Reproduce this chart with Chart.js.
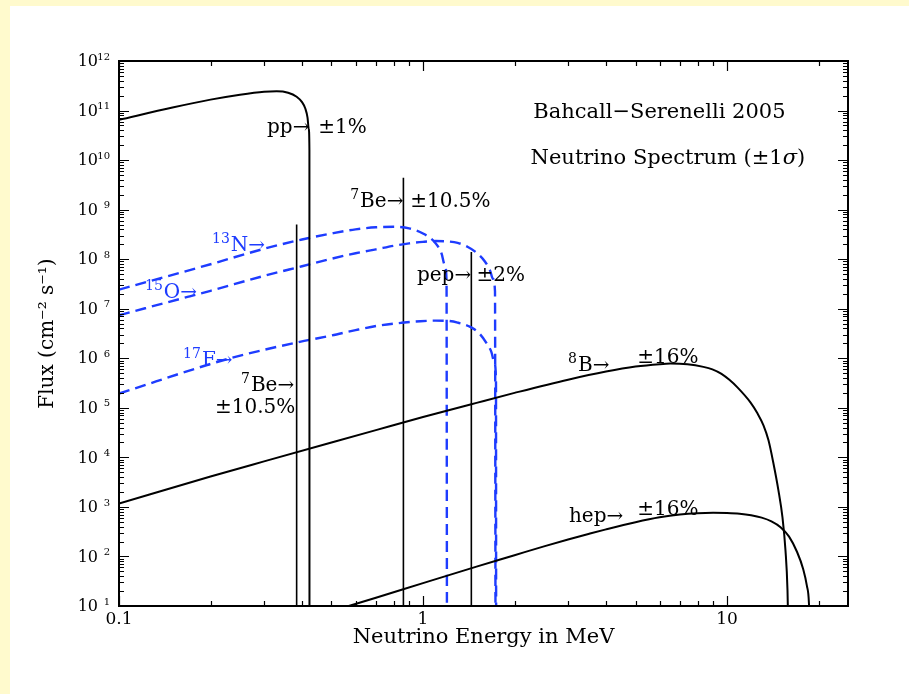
<!DOCTYPE html>
<html>
<head>
<meta charset="utf-8">
<title>Solar neutrino spectrum</title>
<script src="https://cdn.jsdelivr.net/npm/chart.js@4.4.1/dist/chart.umd.min.js"></script>
<style>
  html, body { margin: 0; padding: 0; background: #fffacd; }
  #wrap { width: 909px; height: 694px; }
  canvas { display: block; }
</style>
</head>
<body>
<div id="wrap"><canvas id="spectrum" width="909" height="694"></canvas></div>
<script>
// Energies in MeV; continuum fluxes in cm^-2 s^-1 MeV^-1, line fluxes in cm^-2 s^-1.
// A closing flux of 1 sits below the axis floor so each spectrum drops to its endpoint.

const ppEnergy = [0.1, 0.15, 0.2, 0.25, 0.3, 0.33, 0.36, 0.384, 0.4, 0.41, 0.417, 0.421, 0.423, 0.4232];
const ppFlux   = [6.5e10, 1.15e11, 1.66e11, 2.09e11, 2.4e11, 2.45e11, 2.29e11, 1.9e11, 1.48e11, 1.1e11, 7.2e10, 4.2e10, 1.6e10, 1];

const n13Energy = [0.1, 0.2, 0.3, 0.4, 0.5, 0.6, 0.7, 0.8, 0.9, 1.0, 1.1, 1.15, 1.18, 1.195, 1.199];
const n13Flux   = [2.43e7, 7.9e7, 1.62e8, 2.5e8, 3.3e8, 4.0e8, 4.4e8, 4.5e8, 4.2e8, 3.3e8, 2.1e8, 1.32e8, 7.6e7, 3.7e7, 1];

const o15Energy = [0.1, 0.171, 0.2, 0.3, 0.4, 0.5, 0.6, 0.7, 0.8, 0.9, 1.0, 1.1, 1.2, 1.3, 1.4, 1.5, 1.6, 1.66, 1.7, 1.725, 1.732];
const o15Flux   = [7.4e6, 1.78e7, 2.3e7, 4.6e7, 7.2e7, 1.02e8, 1.32e8, 1.58e8, 1.86e8, 2.09e8, 2.24e8, 2.32e8, 2.29e8, 2.14e8, 1.78e8, 1.35e8, 8.9e7, 6.0e7, 4.0e7, 2.24e7, 1];

const f17Energy = [0.1, 0.232, 0.393, 0.5, 0.6, 0.72, 0.85, 0.98, 1.1, 1.2, 1.3, 1.43, 1.53, 1.62, 1.68, 1.72, 1.738, 1.74];
const f17Flux   = [1.94e5, 1.0e6, 2.14e6, 2.88e6, 3.7e6, 4.6e6, 5.2e6, 5.6e6, 5.75e6, 5.7e6, 5.25e6, 4.3e6, 3.2e6, 2.0e6, 1.32e6, 7.8e5, 3.2e5, 1];

const b8Energy = [0.1, 0.2, 0.3, 0.5, 0.7, 1.0, 1.5, 2, 3, 4, 5, 6, 6.51, 7.41, 8.36, 8.95, 9.59, 10.18, 10.82, 11.94,
                  12.59, 13.18, 13.69, 14.21, 14.76, 15.22, 15.57, 15.81, 15.97];
const b8Flux   = [1.17e3, 4.1e3, 8.3e3, 2.0e4, 3.55e4, 6.5e4, 1.26e5, 2.0e5, 3.7e5, 5.4e5, 6.8e5, 7.6e5, 7.8e5, 7.55e5, 6.71e5, 5.98e5, 4.85e5, 3.67e5, 2.59e5, 1.29e5,
                  7.75e4, 4.44e4, 2.21e4, 7.6e3, 2.16e3, 617, 133, 20.7, 1];

const hepEnergy = [0.5, 0.7, 1, 1.5, 2, 2.5, 3, 3.5, 4, 5, 6, 7, 8, 9, 10, 11, 12, 13, 14, 15, 16, 17, 17.8, 18.3, 18.6, 18.8];
const hepFlux   = [7.8, 14.7, 29.0, 62.4, 106, 160, 220, 284, 352, 491, 617, 703, 746, 760, 752, 728, 679, 607, 511, 389, 251, 123, 56, 26, 11.2, 1];

// Monoenergetic lines
const be7LineEnergy = [0.384, 0.862];
const be7LineFlux   = [5.0e8, 4.4e9];
const pepLineEnergy = [1.442];
const pepLineFlux   = [1.4e8];

// Axis ticks
const xTickValues = [0.1, 1, 10];
const xTickLabels = ['0.1', '1', '10'];
const yTickValues = [1e1, 1e2, 1e3, 1e4, 1e5, 1e6, 1e7, 1e8, 1e9, 1e10, 1e11, 1e12];
const yTickExponents = ['1', '2', '3', '4', '5', '6', '7', '8', '9', '10', '11', '12'];

const FONT = '"DejaVu Serif", serif';
const BLUE = '#1e3cff';

function points(xs, ys) { return xs.map((x, i) => ({ x: x, y: ys[i] })); }

function spectrum(label, xs, ys, color, dashed) {
  return {
    label: label,
    data: points(xs, ys),
    borderColor: color,
    borderWidth: dashed ? 2.4 : 2,
    borderDash: dashed ? [11, 6] : [],
    pointRadius: 0,
    fill: false,
    cubicInterpolationMode: 'monotone'
  };
}

function lineSource(label, e, f) {
  return {
    label: label,
    data: [{ x: e, y: f }, { x: e, y: 1 }],
    borderColor: '#000',
    borderWidth: 1.6,
    pointRadius: 0,
    fill: false
  };
}

const datasets = [
  spectrum('pp', ppEnergy, ppFlux, '#000', false),
  spectrum('8B', b8Energy, b8Flux, '#000', false),
  spectrum('hep', hepEnergy, hepFlux, '#000', false),
  spectrum('13N', n13Energy, n13Flux, BLUE, true),
  spectrum('15O', o15Energy, o15Flux, BLUE, true),
  spectrum('17F', f17Energy, f17Flux, BLUE, true)
];
be7LineEnergy.forEach((e, i) => datasets.push(lineSource('7Be line', e, be7LineFlux[i])));
pepLineEnergy.forEach((e, i) => datasets.push(lineSource('pep line', e, pepLineFlux[i])));

// Source labels, anchored at (energy, flux). Each label is a run of parts;
// a part may be raised (isotope mass number) or italic.
const notes = [
  { parts: [{ t: 'pp\u2192' }], e: 0.423, f: 4.4e10, align: 'right', color: '#000' },
  { parts: [{ t: '\u00b11%' }], e: 0.452, f: 4.4e10, align: 'left', color: '#000' },
  { parts: [{ t: '7', sup: true }, { t: 'Be\u2192' }], e: 0.862, f: 1.47e9, align: 'right', color: '#000' },
  { parts: [{ t: '\u00b110.5%' }], e: 0.908, f: 1.47e9, align: 'left', color: '#000' },
  { parts: [{ t: 'Bahcall\u2212Serenelli 2005' }], e: 5.99, f: 9.2e10, align: 'center', color: '#000', size: 21 },
  { parts: [{ t: 'Neutrino Spectrum (\u00b11' }, { t: '\u03c3', italic: true }, { t: ')' }], e: 6.39, f: 1.08e10, align: 'center', color: '#000', size: 21 },
  { parts: [{ t: '13', sup: true }, { t: 'N\u2192' }], e: 0.2023, f: 1.9e8, align: 'left', color: BLUE },
  { parts: [{ t: '15', sup: true }, { t: 'O\u2192' }], e: 0.1218, f: 2.14e7, align: 'left', color: BLUE },
  { parts: [{ t: '17', sup: true }, { t: 'F\u2192' }], e: 0.1625, f: 9.1e5, align: 'left', color: BLUE },
  { parts: [{ t: '7', sup: true }, { t: 'Be\u2192' }], e: 0.377, f: 2.84e5, align: 'right', color: '#000' },
  { parts: [{ t: '\u00b110.5%' }], e: 0.38, f: 9.8e4, align: 'right', color: '#000' },
  { parts: [{ t: 'pep\u2192' }], e: 1.44, f: 4.7e7, align: 'right', color: '#000' },
  { parts: [{ t: '\u00b12%' }], e: 1.5, f: 4.7e7, align: 'left', color: '#000' },
  { parts: [{ t: '8', sup: true }, { t: 'B\u2192' }], e: 3.0, f: 7.2e5, align: 'left', color: '#000' },
  { parts: [{ t: '\u00b116%' }], e: 5.07, f: 1.0e6, align: 'left', color: '#000' },
  { parts: [{ t: 'hep\u2192' }], e: 3.02, f: 646, align: 'left', color: '#000' },
  { parts: [{ t: '\u00b116%' }], e: 5.07, f: 894, align: 'left', color: '#000' }
];

const pageBackground = {
  id: 'pageBackground',
  beforeDraw(chart) {
    const ctx = chart.ctx;
    ctx.save();
    ctx.fillStyle = '#fffacd';
    ctx.fillRect(0, 0, chart.width, chart.height);
    ctx.fillStyle = '#ffffff';
    ctx.fillRect(10, 6, chart.width - 10, chart.height - 6);
    ctx.restore();
  }
};

// Box frame with inward major/minor ticks on all four sides, plus tick labels
const frameTicks = {
  id: 'frameTicks',
  afterDatasetsDraw(chart) {
    const { ctx, chartArea: a, scales: { x, y } } = chart;
    ctx.save();
    ctx.strokeStyle = '#000';
    ctx.lineWidth = 1.2;
    ctx.beginPath();
    for (let d = -1; d <= 1; d++) {
      for (let m = 1; m <= 9; m++) {
        const v = m * Math.pow(10, d);
        if (v < x.min * 0.999 || v > x.max) continue;
        const p = Math.round(x.getPixelForValue(v)) + 0.5;
        const L = m === 1 ? 10 : 5;
        ctx.moveTo(p, a.bottom); ctx.lineTo(p, a.bottom - L);
        ctx.moveTo(p, a.top); ctx.lineTo(p, a.top + L);
      }
    }
    for (let d = 1; d <= 12; d++) {
      for (let m = 1; m <= 9; m++) {
        const v = m * Math.pow(10, d);
        if (v > y.max * 1.001) continue;
        const p = Math.round(y.getPixelForValue(v)) + 0.5;
        const L = m === 1 ? 10 : 5;
        ctx.moveTo(a.left, p); ctx.lineTo(a.left + L, p);
        ctx.moveTo(a.right, p); ctx.lineTo(a.right - L, p);
      }
    }
    ctx.stroke();
    ctx.lineWidth = 2;
    ctx.strokeRect(a.left, a.top, a.right - a.left, a.bottom - a.top);

    ctx.fillStyle = '#000';
    // x tick labels
    ctx.font = '17px ' + FONT;
    ctx.textAlign = 'center';
    ctx.textBaseline = 'middle';
    xTickValues.forEach((v, i) => ctx.fillText(xTickLabels[i], x.getPixelForValue(v), a.bottom + 14));
    // y tick labels: "10" with a raised exponent
    yTickValues.forEach((v, i) => {
      const py = y.getPixelForValue(v);
      ctx.font = '16px ' + FONT;
      ctx.textAlign = 'right';
      ctx.textBaseline = 'middle';
      ctx.fillText('10', a.left - 21, py + 1);
      ctx.font = '10px ' + FONT;
      ctx.fillText(yTickExponents[i], a.left - 9, py - 4);
    });
    ctx.restore();
  }
};

const sourceNotes = {
  id: 'sourceNotes',
  afterDatasetsDraw(chart) {
    const { ctx, scales: { x, y } } = chart;
    ctx.save();
    ctx.textBaseline = 'middle';
    ctx.textAlign = 'left';
    notes.forEach(n => {
      const size = n.size || 20;
      const fontFor = p => (p.italic ? 'italic ' : '') + (p.sup ? Math.round(size * 0.68) : size) + 'px ' + FONT;
      const widths = n.parts.map(p => {
        ctx.font = fontFor(p);
        return ctx.measureText(p.t).width + (p.sup ? 1 : 0);
      });
      const w = widths.reduce((s, v) => s + v, 0);
      const px = x.getPixelForValue(n.e);
      const py = y.getPixelForValue(n.f);
      let cx = n.align === 'left' ? px : (n.align === 'right' ? px - w : px - w / 2);
      ctx.fillStyle = n.color;
      n.parts.forEach((p, i) => {
        ctx.font = fontFor(p);
        ctx.fillText(p.t, cx, p.sup ? py - 6 : py);
        cx += widths[i];
      });
    });
    ctx.restore();
  }
};

new Chart(document.getElementById('spectrum'), {
  type: 'line',
  data: { datasets: datasets },
  plugins: [pageBackground, frameTicks, sourceNotes],
  options: {
    responsive: false,
    animation: false,
    devicePixelRatio: 1,
    layout: { padding: { top: 61, right: 61, left: 0, bottom: 0 } },
    plugins: { legend: { display: false }, tooltip: { enabled: false } },
    scales: {
      x: {
        type: 'logarithmic',
        position: 'bottom',
        min: 0.1,
        max: 25,
        afterBuildTicks: s => { s.ticks = xTickValues.map(v => ({ value: v })); },
        afterFit: s => { s.height = 88; },
        grid: { display: false },
        border: { display: false },
        ticks: { display: false },
        title: {
          display: true, text: 'Neutrino Energy in MeV', color: '#000',
          font: { family: FONT, size: 21 }, padding: { top: 0, bottom: 44 }
        }
      },
      y: {
        type: 'logarithmic',
        position: 'left',
        min: 1e1,
        max: 1e12,
        afterBuildTicks: s => { s.ticks = yTickValues.map(v => ({ value: v })); },
        afterFit: s => { s.width = 119; },
        grid: { display: false },
        border: { display: false },
        ticks: { display: false },
        title: {
          display: true, text: 'Flux (cm\u207b\u00b2 s\u207b\u00b9)', color: '#000',
          font: { family: FONT, size: 20 }, padding: { top: 36, bottom: 0 }
        }
      }
    }
  }
});
</script>
</body>
</html>
